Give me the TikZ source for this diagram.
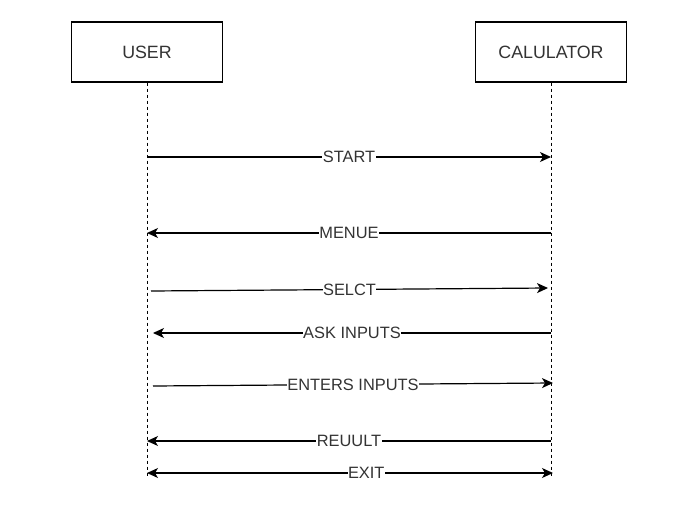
\documentclass[tikz,border=0pt]{standalone}
\usepackage{fontspec}
\setmainfont{Liberation Sans}
\usetikzlibrary{arrows.meta}
\definecolor{txtgray}{HTML}{333333}
\begin{document}
\begin{tikzpicture}[x=1pt,y=-1pt,
  actor/.style={draw=black, line width=1.2pt, fill=white, minimum width=151pt, minimum height=60pt, inner sep=0pt, font=\fontsize{17.8}{21}\selectfont, text=txtgray},
  lifeline/.style={draw=black, line width=0.9pt, dash pattern=on 3pt off 3pt},
  msg/.style={draw=black, line width=1.2pt, -{Stealth[length=11pt,width=10pt,inset=3pt]}},
  both/.style={draw=black, line width=1.2pt, {Stealth[length=11pt,width=10pt,inset=3pt]}-{Stealth[length=11pt,width=10pt,inset=3pt]}},
  lbl/.style={fill=white, inner sep=0.5pt, font=\fontsize{16.4}{19}\selectfont, text=txtgray}]
\useasboundingbox (0,0) rectangle (680,522);
\node[actor] (user) at (147,52) {USER};
\node[actor] (calc) at (551,52) {CALULATOR};
\coordinate (uend) at (147,478);
\coordinate (cend) at (551,478);
\draw[lifeline] (user.south) -- (uend);
\draw[lifeline] (calc.south) -- (cend);
% messages
\coordinate (u1) at (147,157); \coordinate (c1) at (551,157);
\coordinate (u2) at (147,233); \coordinate (c2) at (551,233);
\coordinate (u3) at (151,291); \coordinate (c3) at (548,288);
\coordinate (u4) at (153,333); \coordinate (c4) at (551,333);
\coordinate (u5) at (153,386); \coordinate (c5) at (553,383);
\coordinate (u6) at (147,441); \coordinate (c6) at (551,441);
\coordinate (u7) at (147,473); \coordinate (c7) at (553,473);
\draw[msg] (u1) -- node[lbl]{START} (c1);
\draw[msg] (c2) -- node[lbl]{MENUE} (u2);
\draw[msg] (u3) -- node[lbl]{SELCT} (c3);
\draw[msg] (c4) -- node[lbl]{ASK INPUTS} (u4);
\draw[msg] (u5) -- node[lbl]{ENTERS INPUTS} (c5);
\draw[msg] (c6) -- node[lbl]{REUULT} (u6);
\draw[both] (u7) -- node[lbl, pos=0.54]{EXIT} (c7);
\end{tikzpicture}
\end{document}
